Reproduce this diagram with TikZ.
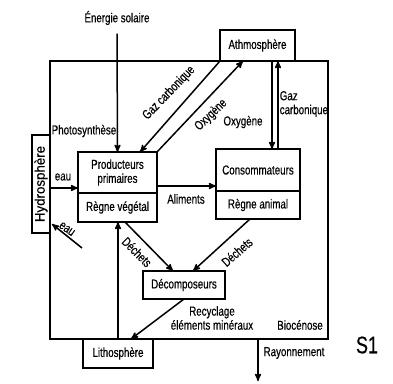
\documentclass[tikz,border=0pt]{standalone}
\usepackage{fontspec}
\setmainfont{Liberation Sans}[FakeStretch=0.75,FakeBold=0.4]
\newfontfamily\hydrofont{Liberation Sans}[FakeStretch=0.95,FakeBold=0.4]
\usepackage{tikz}
\usetikzlibrary{positioning}
\usetikzlibrary{calc}
\usetikzlibrary{arrows}
\tikzset{
bx/.style={
  rectangle,solid,
  inner sep=0pt,
  outer sep=0pt,
  line width=1.1pt,
  align=center,
  draw=black,
  fill=white
  },
lb/.style={
  inner sep=0pt,
  align=center
  }
}

\begin{document}
\begin{tikzpicture}[x=1pt,y=-1pt,->,>=stealth',line width=1.5pt,font=\fontsize{13}{14}\selectfont]
            \useasboundingbox (0,0) rectangle (393,383);
            \node[bx,line width=1.7pt,fill=none,minimum width=278,minimum height=278] (bio) at (189,200) {};
            % boxes
            \node[bx,minimum width=75,minimum height=31] (atm) at (257.5,45.5) {Athmosphère};
            \node[bx,minimum width=79,minimum height=41] (prod) at (117.5,172.5) {Producteurs\\primaires};
            \node[bx,minimum width=79,minimum height=29] (prodl) [below=0pt of prod] {Règne végétal};
            \node[bx,minimum width=84,minimum height=42] (cons) at (258,170) {Consommateurs};
            \node[bx,minimum width=84,minimum height=28] (consl) [below=0pt of cons] {Règne animal};
            \node[bx,minimum width=82,minimum height=28] (decomp) at (184,285) {Décomposeurs};
            \node[bx,minimum width=70,minimum height=29] (litho) at (118,353.5) {Lithosphère};
            \node[bx,rotate=90,minimum width=98,minimum height=18,font=\hydrofont\fontsize{14}{14}\selectfont] (hydro) at (41,184) {Hydrosphère};
            % labels
            \node[lb] (esol) at (117,18) {Énergie solaire};
            \node[lb] (photo) at (84,131) {Photosynthèse};
            \node[lb,rotate=46] (gcd) at (169,93) {Gaz carbonique};
            \node[lb,rotate=44] (oxd) at (211,115) {Oxygène};
            \node[lb] (oxv) at (243,122) {Oxygène};
            \node[lb,align=left,anchor=west] (gcv) at (279,104) {Gaz\\carbonique};
            \node[lb] (eau1) at (63,177) {eau};
            \node[lb,rotate=-35] (eau2) at (67,229) {eau};
            \node[lb] (alim) at (186,199) {Aliments};
            \node[lb,rotate=-45] (dech1) at (137,252) {Déchets};
            \node[lb,rotate=41] (dech2) at (237,252) {Déchets};
            \node[lb] (recy) at (212,318) {Recyclage\\éléments minéraux};
            \node[lb] (bioc) at (300,325) {Biocénose};
            \node[lb] (rayo) at (294,353) {Rayonnement};
            \node[lb,font=\fontsize{24}{24}\selectfont] (s1) at (367,345) {S1};
            % flows
            \coordinate (es) at ($(esol.south)+(0,8)$);
            \coordinate (al) at ($(prodl.north east)+(0,-7)$);
            \coordinate (e1) at ($(prodl.north west)+(0,-5)$);
            \coordinate (e2) at ($(prodl.south west)+(4,26)$);
            \coordinate (ray) at (258,381);
            \draw (es) -- (prod.north);
            \draw (atm.south west) -- ($(prod.north)+(22.5,0)$);
            \draw (prod.north east) -- ($(atm.south)+(-14.5,0)$);
            \draw ($(cons.north |- bio.north)+(14,0)$) -- ($(cons.north)+(14,0)$);
            \draw ($(cons.north)+(20,0)$) -- ($(cons.north |- bio.north)+(20,0)$);
            \draw (al) -- (al -| cons.west);
            \draw (e1 -| bio.west) -- (e1);
            \draw (e2) -- ($(bio.west)+(2,24)$);
            \draw ($(prodl.south)+(7.5,0)$) -- ($(decomp.north)+(-11,0)$);
            \draw ($(consl.south)+(-8,0)$) -- ($(decomp.north)+(9,0)$);
            \draw (decomp.south) -- ($(litho.north)+(13,0)$);
            \draw (litho.north) -- (litho.north |- prodl.south);
            \draw (ray |- bio.south) -- (ray);
        \end{tikzpicture}
\end{document}
